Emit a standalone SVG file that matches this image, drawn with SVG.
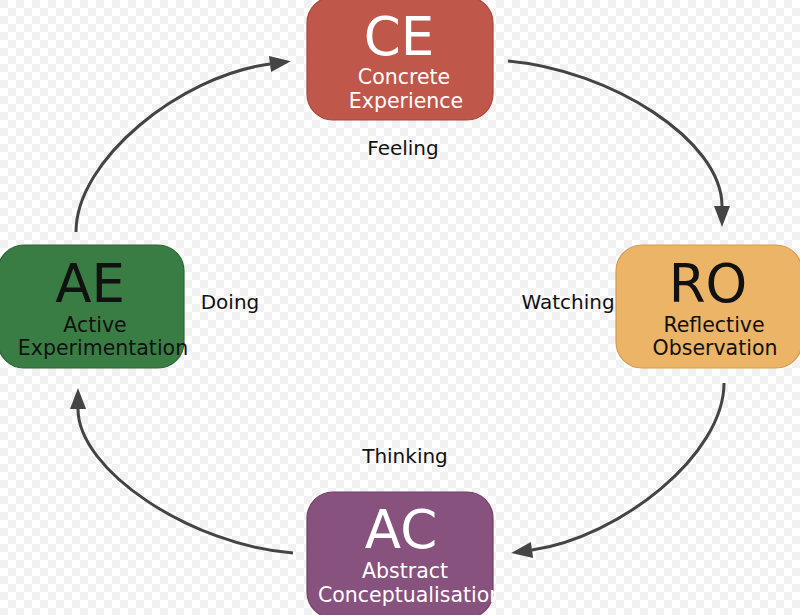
<svg xmlns="http://www.w3.org/2000/svg" width="800" height="615" viewBox="0 0 800 615">
  <defs>
    <pattern id="checker" width="16" height="16" patternUnits="userSpaceOnUse">
      <rect width="16" height="16" fill="#ffffff"/>
      <rect width="8" height="8" fill="#f1f1f1"/>
      <rect x="8" y="8" width="8" height="8" fill="#f1f1f1"/>
    </pattern>
    <marker id="arrow" markerUnits="userSpaceOnUse" markerWidth="22" markerHeight="18" refX="0" refY="8" orient="auto" overflow="visible">
      <path d="M0,0 L21,8 L0,16 Z" fill="#444444"/>
    </marker>
    <clipPath id="acClip">
      <rect x="300" y="480" width="197" height="140"/>
    </clipPath>
    <style>
      .box { stroke-width: 1.2; }
      .big { font-family: "DejaVu Sans", Verdana, sans-serif; font-size: 53px; text-anchor: middle; }
      .sub { font-family: "DejaVu Sans", Verdana, sans-serif; font-size: 20.5px; text-anchor: middle; }
      .lbl { font-family: "DejaVu Sans", Verdana, sans-serif; font-size: 20px; text-anchor: middle; fill: #111111; }
      .light { fill: #ffffff; }
      .dark { fill: #111111; }
      .conn { fill: none; stroke: #444444; stroke-width: 3; marker-end: url(#arrow); }
    </style>
  </defs>

  <rect width="800" height="615" fill="url(#checker)"/>

  <g id="connectors">
    <path class="conn" d="M76,232 C76,160 180,76 270,64"/>
    <path class="conn" d="M508,61 C610,70 722,140 722,206"/>
    <path class="conn" d="M724,383 C724,455 620,537 532,550"/>
    <path class="conn" d="M293,553 C190,545 78,470 78,409"/>
  </g>

  <g id="CE">
    <rect class="box" x="307" y="-3" width="186" height="123" rx="26" fill="#bf574a" stroke="#a8473b"/>
    <text class="big light" x="399" y="55">CE</text>
    <text class="sub light" x="404" y="84">Concrete</text>
    <text class="sub light" x="406" y="108">Experience</text>
  </g>

  <g id="RO">
    <rect class="box" x="616" y="245" width="186" height="123" rx="26" fill="#ebb467" stroke="#d49c50"/>
    <text class="big dark" x="708" y="302">RO</text>
    <text class="sub dark" x="714" y="332">Reflective</text>
    <text class="sub dark" x="715" y="355">Observation</text>
  </g>

  <g id="AC">
    <rect class="box" x="307" y="492" width="186" height="126" rx="26" fill="#87527d" stroke="#6f3f66"/>
    <text class="big light" x="401" y="548">AC</text>
    <text class="sub light" x="405" y="578">Abstract</text>
    <text class="sub light" x="318" y="602" clip-path="url(#acClip)" style="text-anchor:start">Conceptualisation</text>
  </g>

  <g id="AE">
    <rect class="box" x="-2" y="245" width="186" height="123" rx="26" fill="#3a7d44" stroke="#2c6435"/>
    <text class="big dark" x="90" y="302">AE</text>
    <text class="sub dark" x="95" y="332">Active</text>
    <text class="sub dark" x="103" y="355">Experimentation</text>
  </g>

  <g id="labels">
    <text class="lbl" x="403" y="155">Feeling</text>
    <text class="lbl" x="230" y="309">Doing</text>
    <text class="lbl" x="568" y="309">Watching</text>
    <text class="lbl" x="405" y="463">Thinking</text>
  </g>
</svg>
